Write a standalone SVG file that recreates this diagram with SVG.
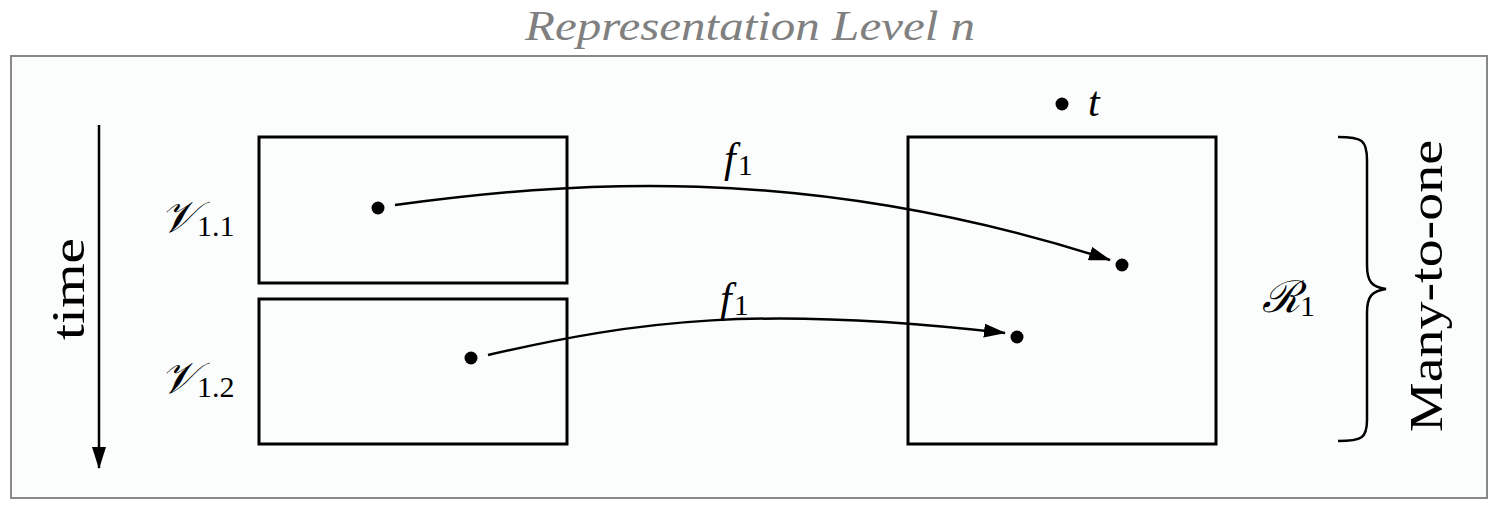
<svg xmlns="http://www.w3.org/2000/svg" width="1498" height="510" viewBox="0 0 1498 510">
<defs>
<style>
.box{fill:none;stroke:#000;stroke-width:3}
.dot{fill:#000}
.conn{fill:none;stroke:#000;stroke-width:2.5}
text{font-family:'Liberation Serif','DejaVu Serif',serif;fill:#000}
.it{font-style:italic}
.sub{font-size:30px;font-style:normal}
</style>
<marker id="ah" viewBox="0 0 22 14" refX="21" refY="7" markerWidth="22" markerHeight="14" markerUnits="userSpaceOnUse" orient="auto">
<path d="M0,0 L22,7 L0,14 Z" fill="#000"/>
</marker>
</defs>
<rect x="0" y="0" width="1498" height="510" fill="#fff"/>
<g id="frame">
<rect x="11" y="56" width="1476" height="442" fill="#fbfdfd" stroke="#888" stroke-width="2"/>
<text x="525" y="40" class="it" font-size="42" textLength="450" lengthAdjust="spacingAndGlyphs" style="fill:#808080">Representation Level n</text>
</g>
<g id="time">
<text font-size="46" transform="translate(84,340) rotate(-90)" textLength="102" lengthAdjust="spacingAndGlyphs">time</text>
</g>
<g id="V11">
<rect class="box" x="259" y="137" width="308" height="146"/>
<text class="it" x="160" y="232" font-size="44">𝒱<tspan class="sub" dy="4">1.1</tspan></text>
<circle class="dot" cx="378" cy="208" r="6.5"/>
</g>
<g id="V12">
<rect class="box" x="259" y="299" width="308" height="145"/>
<text class="it" x="160" y="393" font-size="44">𝒱<tspan class="sub" dy="4">1.2</tspan></text>
<circle class="dot" cx="471" cy="358" r="6.5"/>
</g>
<g id="R1">
<rect class="box" x="908" y="137" width="308" height="307"/>
<circle class="dot" cx="1122" cy="265" r="6.5"/>
<circle class="dot" cx="1017" cy="337" r="6.5"/>
<text class="it" x="1262" y="312" font-size="44">ℛ<tspan class="sub" dy="4">1</tspan></text>
</g>
<g id="t">
<circle class="dot" cx="1062" cy="104" r="6.5"/>
<text class="it" x="1088" y="116" font-size="42">t</text>
</g>
<g id="manytoone">
<path d="M1338,137 C1362,137 1367,140 1367,160 L1367,265 C1367,282 1372,287 1386,289 C1372,291 1367,296 1367,313 L1367,420 C1367,438 1362,441 1338,441" fill="none" stroke="#000" stroke-width="2.5"/>
<text font-size="46" transform="translate(1442,432) rotate(-90)" textLength="292" lengthAdjust="spacingAndGlyphs">Many-to-one</text>
</g>
<g id="connectors">
<line x1="99" y1="125" x2="99" y2="468" stroke="#000" stroke-width="2.5" marker-end="url(#ah)"/>
<path class="conn" d="M395,205 C560,183 800,160 1110,260" marker-end="url(#ah)"/>
<path class="conn" d="M488,355 C640,320 760,305 1005,333" marker-end="url(#ah)"/>
<text class="it" x="724" y="172" font-size="42">f<tspan class="sub" dy="3" dx="2">1</tspan></text>
<text class="it" x="720" y="312" font-size="42">f<tspan class="sub" dy="3" dx="2">1</tspan></text>
</g>
</svg>
